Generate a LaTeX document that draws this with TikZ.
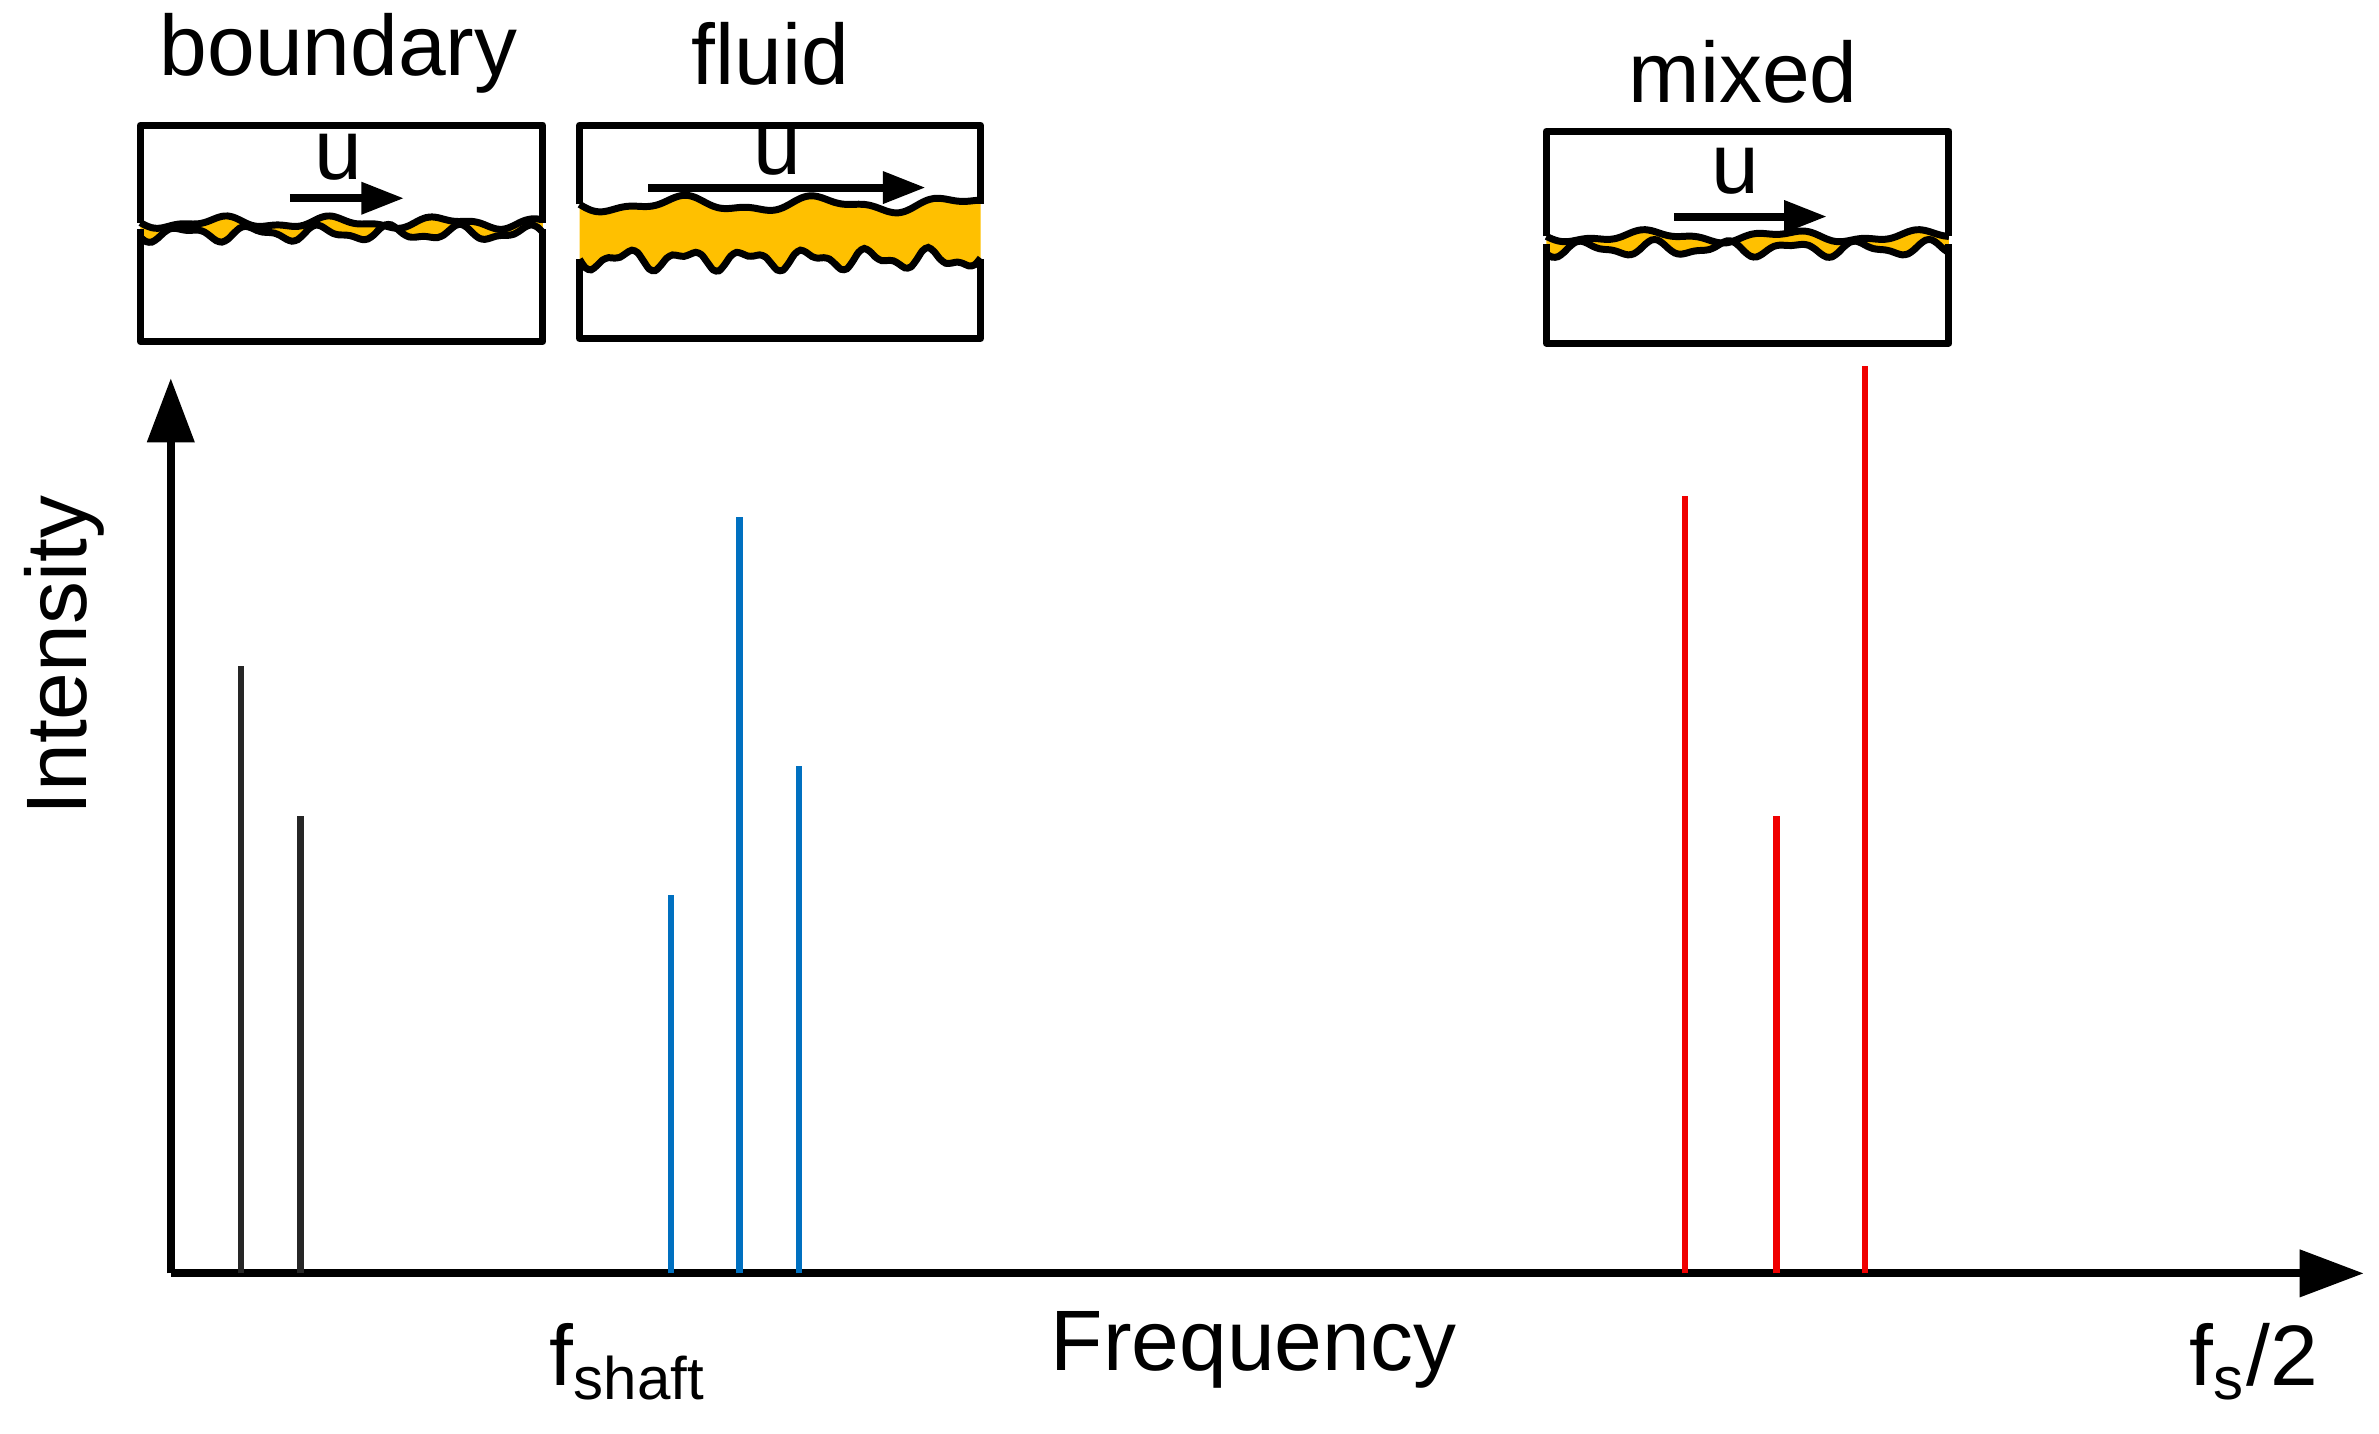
\documentclass[tikz,border=0pt]{standalone}
\usepackage{fontspec}
\setmainfont{Liberation Sans}
\usetikzlibrary{arrows.meta}
\definecolor{oil}{RGB}{255,192,0}
\definecolor{fblue}{RGB}{0,112,192}
\definecolor{fred}{RGB}{240,0,0}
\begin{document}
\begin{tikzpicture}[x=0.01cm,y=-0.01cm]
\tikzstyle{every node}=[font=\fontsize{16}{18}\selectfont]
\tikzstyle{axis}=[line width=1.5pt, -{Triangle[length=0.42cm,width=0.3cm]}]
\tikzstyle{vel}=[line width=1.5pt, -{Triangle[length=0.28cm,width=0.2cm]}]
\tikzstyle{block}=[line width=1.3pt, line join=round]
\tikzstyle{wave}=[line width=1.3pt, smooth, samples=70]
\tikzstyle{peak}=[line width=1.2pt]
\useasboundingbox (0,0) rectangle (1560,940);
% axes
  \coordinate (o) at (112,835);
  \coordinate (ytop) at (112,248);
  \coordinate (xend) at (1550,835);
  \draw[axis] (o) -- (ytop);
  \draw[axis] (o) -- (xend);
  \node[rotate=90] (int) at (42,430) {Intensity};
  \node (freq) at (822,885) {Frequency};
  \node (fsh) at (412,893) {f\textsubscript{shaft}};
  \node (fs) at (1478,893) {f\textsubscript{s}/2};
% peaks
  \foreach \x/\h in {158/437, 197/535}
    \draw[peak, black!85] (\x,835) -- (\x,\h);
  \foreach \x/\h in {440/587, 485/339, 524/502}
    \draw[peak, fblue] (\x,835) -- (\x,\h);
  \foreach \x/\h in {1105/325, 1165/535, 1223/240}
    \draw[peak, fred] (\x,835) -- (\x,\h);
% boundary
  \node (lbound) at (222,35) {boundary};
  \begin{scope}[shift={(92,0)}]
  \fill[oil] plot[wave, domain=0:264] (\x,{146+3*sin(5*\x)+1.5*sin(11*\x)})
    -- plot[wave, domain=264:0] (\x,{153+4*sin(8*\x+40)+2*sin(15*\x)}) -- cycle;
  \draw[block] (0,146) -- (0,82) -- (264,82) -- (264,146);
  \draw[wave] plot[domain=0:264] (\x,{146+3*sin(5*\x)+1.5*sin(11*\x)});
  \draw[block] (0,150) -- (0,224) -- (264,224) -- (264,150);
  \draw[wave] plot[domain=0:264] (\x,{153+4*sin(8*\x+40)+2*sin(15*\x)});
  \end{scope}
  \node (ub) at (222,103) {u};
  \draw[vel] (190,130) -- (265,130);
% fluid
  \node (lfluid) at (505,35) {fluid};
  \begin{scope}[shift={(380,0)}]
  \fill[oil] plot[wave, domain=0:263] (\x,{134+4*sin(4*\x)+2*sin(9*\x)})
    -- plot[wave, domain=263:0] (\x,{170+5*sin(9*\x)+3*sin(17*\x)}) -- cycle;
  \draw[block] (0,134) -- (0,82) -- (263,82) -- (263,134);
  \draw[wave] plot[domain=0:263] (\x,{134+4*sin(4*\x)+2*sin(9*\x)});
  \draw[block] (0,170) -- (0,222) -- (263,222) -- (263,170);
  \draw[wave] plot[domain=0:263] (\x,{170+5*sin(9*\x)+3*sin(17*\x)});
  \end{scope}
  \node (uf) at (510,100) {u};
  \draw[vel] (425,123) -- (607,123);
% mixed
  \node (lmixed) at (1143,47) {mixed};
  \begin{scope}[shift={(1014,0)}]
  \fill[oil] plot[wave, domain=0:264] (\x,{155+3*sin(4*\x)+1.5*sin(10*\x)})
    -- plot[wave, domain=264:0] (\x,{163+4*sin(8*\x+60)+2*sin(14*\x)}) -- cycle;
  \draw[block] (0,155) -- (0,86) -- (264,86) -- (264,155);
  \draw[wave] plot[domain=0:264] (\x,{155+3*sin(4*\x)+1.5*sin(10*\x)});
  \draw[block] (0,160) -- (0,225) -- (264,225) -- (264,160);
  \draw[wave] plot[domain=0:264] (\x,{163+4*sin(8*\x+60)+2*sin(14*\x)});
  \end{scope}
  \node (um) at (1138,112) {u};
  \draw[vel] (1098,142) -- (1198,142);
\end{tikzpicture}
\end{document}
